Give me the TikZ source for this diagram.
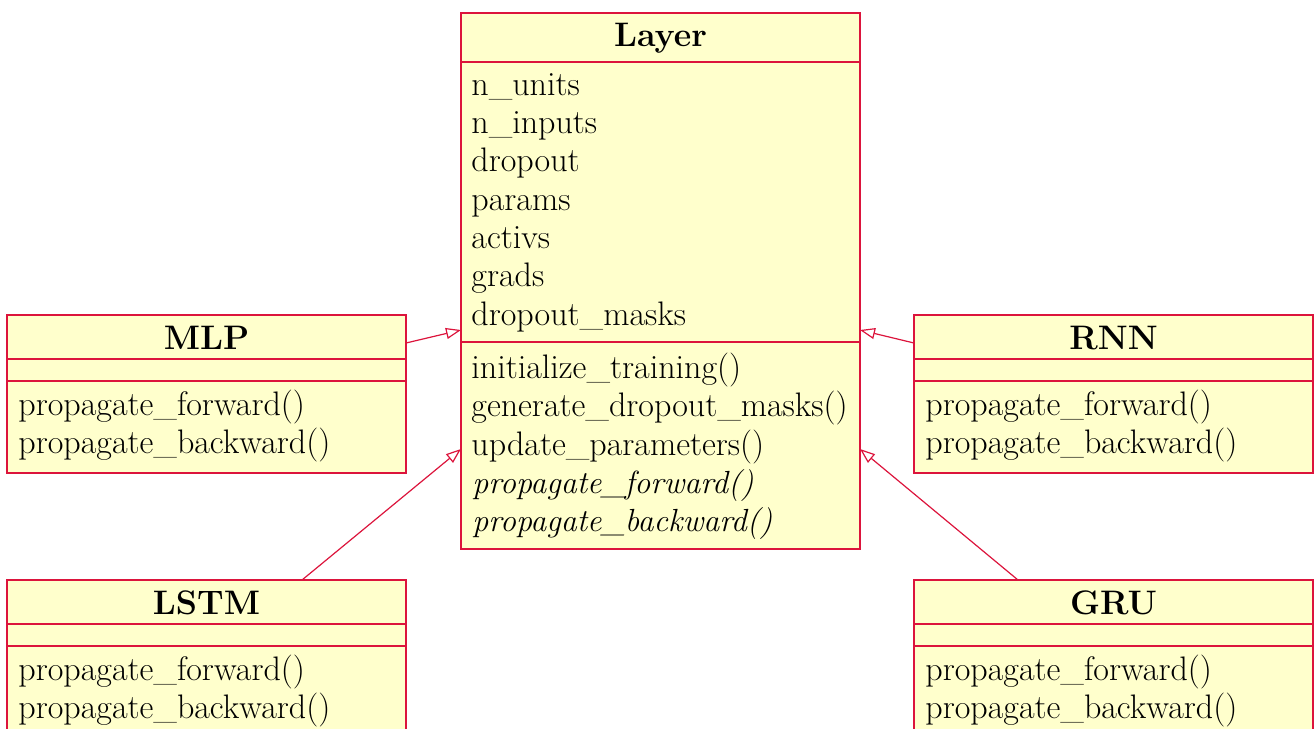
\documentclass[tikz,border=0pt]{standalone}
\usetikzlibrary{arrows.meta,calc}
\definecolor{umlborder}{HTML}{DC143C}
\definecolor{umlfill}{HTML}{FFFFCC}

% a small subclass box: name, x, y (top-left), title
\newcommand\subclassbox[4]{%
  \node[box, minimum width=199.5pt, minimum height=79pt] (#1) at (#2,#3) {};
  \node[title] (#1-title) at ($(#1.north)+(0,34)$) {#4};
  \draw[rowline] ($(#1.north west)+(0,44)$) -- ($(#1.north east)+(0,44)$);
  \draw[rowline] ($(#1.north west)+(0,66)$) -- ($(#1.north east)+(0,66)$);
  \node[item] (#1-fwd) at ($(#1.north west)+(11,100)$) {propagate\_forward()};
  \node[item] (#1-bwd) at ($(#1.north west)+(11,138)$) {propagate\_backward()};
}

\begin{document}
\begin{tikzpicture}[x=0.5pt, y=-0.5pt,
  font=\fontsize{17}{20}\selectfont,
  box/.style={draw=umlborder, fill=umlfill, line width=0.6pt, inner sep=0pt, outer sep=0pt, anchor=north west},
  rowline/.style={draw=umlborder, line width=0.6pt},
  title/.style={font=\fontsize{17}{20}\selectfont\bfseries, anchor=base, inner sep=0pt},
  item/.style={anchor=base west, inner sep=0pt},
  abstract/.style={item, font=\fontsize{16}{20}\selectfont\itshape},
  inh/.style={draw=umlborder, line width=0.6pt, -{Triangle[open, length=7.5pt, width=5.5pt]}}]
\useasboundingbox (0,0) rectangle (1314,729);
\clip (0,0) rectangle (1314,729);

% base class
\node[box, minimum width=199.5pt, minimum height=268pt] (layer) at (461,13) {};
\node[title] (layer-title) at ($(layer.north)+(0,33)$) {Layer};
\draw[rowline] ($(layer.north west)+(0,49)$) -- ($(layer.north east)+(0,49)$);
\draw[rowline] ($(layer.north west)+(0,329)$) -- ($(layer.north east)+(0,329)$);
\node[item] (a1) at ($(layer.north west)+(10,82)$) {n\_units};
\node[item] (a2) at ($(layer.north west)+(10,120.3)$) {n\_inputs};
\node[item] (a3) at ($(layer.north west)+(10,158.6)$) {dropout};
\node[item] (a4) at ($(layer.north west)+(10,197)$) {params};
\node[item] (a5) at ($(layer.north west)+(10,235.2)$) {activs};
\node[item] (a6) at ($(layer.north west)+(10,273.5)$) {grads};
\node[item] (a7) at ($(layer.north west)+(10,312)$) {dropout\_masks};
\node[item] (m1) at ($(layer.north west)+(10,365)$) {initialize\_training()};
\node[item] (m2) at ($(layer.north west)+(10,403.5)$) {generate\_dropout\_masks()};
\node[item] (m3) at ($(layer.north west)+(10,442)$) {update\_parameters()};
\node[abstract] (m4) at ($(layer.north west)+(11,480)$) {propagate\_forward()};
\node[abstract] (m5) at ($(layer.north west)+(11,518)$) {propagate\_backward()};

% subclasses
\subclassbox{mlp}{7}{315}{MLP}
\subclassbox{rnn}{914}{315}{RNN}
\subclassbox{lstm}{7}{580}{LSTM}
\subclassbox{gru}{914}{580}{GRU}

% inheritance
\draw[inh] ($(mlp.north east)+(0,28)$) -- ($(layer.north west)+(0,317)$);
\draw[inh] ($(rnn.north west)+(0,28)$) -- ($(layer.north east)+(0,317)$);
\draw[inh] ($(lstm.north west)+(295,0)$) -- ($(layer.north west)+(0,436)$);
\draw[inh] ($(gru.north west)+(104,0)$) -- ($(layer.north east)+(0,436)$);
\end{tikzpicture}
\end{document}
